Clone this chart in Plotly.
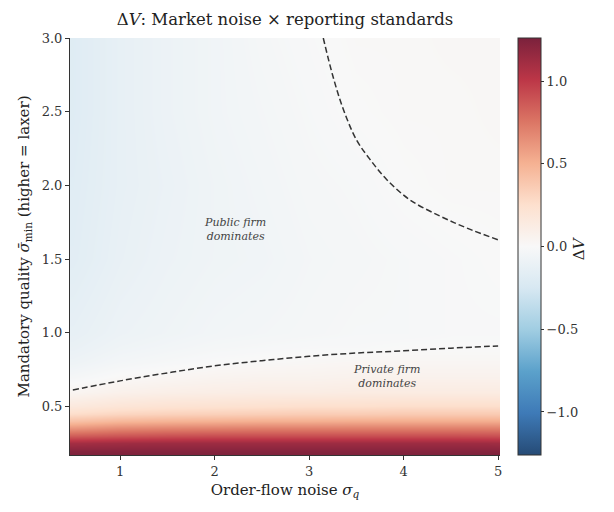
import plotly.graph_objects as go

# Grid
sigma_q = [0.5, 1.0, 1.5, 2.0, 2.5, 3.0, 3.5, 4.0, 4.5, 5.0]
sigma_min = [0.17, 0.2, 0.25, 0.3, 0.35, 0.4, 0.45, 0.5, 0.6, 0.7, 0.8, 0.9, 1.0, 1.5, 2.0, 2.5, 3.0]

dV = [
    [1.25, 1.25, 1.25, 1.25, 1.25, 1.25, 1.25, 1.25, 1.25, 1.25],
    [1.22, 1.22, 1.22, 1.22, 1.22, 1.22, 1.22, 1.22, 1.22, 1.22],
    [1.10, 1.12, 1.13, 1.13, 1.13, 1.13, 1.13, 1.13, 1.13, 1.12],
    [0.86, 0.89, 0.91, 0.92, 0.92, 0.92, 0.92, 0.92, 0.92, 0.91],
    [0.62, 0.67, 0.69, 0.70, 0.71, 0.71, 0.71, 0.71, 0.71, 0.71],
    [0.42, 0.47, 0.49, 0.50, 0.51, 0.51, 0.52, 0.52, 0.52, 0.52],
    [0.27, 0.31, 0.33, 0.34, 0.35, 0.36, 0.36, 0.37, 0.37, 0.37],
    [0.16, 0.20, 0.22, 0.23, 0.24, 0.25, 0.25, 0.26, 0.26, 0.26],
    [0.04, 0.08, 0.10, 0.11, 0.12, 0.12, 0.13, 0.13, 0.13, 0.13],
    [-0.03, 0.01, 0.03, 0.05, 0.06, 0.06, 0.07, 0.07, 0.07, 0.07],
    [-0.08, -0.04, -0.02, 0.00, 0.01, 0.02, 0.03, 0.03, 0.03, 0.03],
    [-0.11, -0.07, -0.05, -0.03, -0.02, -0.01, -0.01, 0.00, 0.00, 0.00],
    [-0.13, -0.09, -0.07, -0.05, -0.04, -0.03, -0.02, -0.02, -0.01, -0.01],
    [-0.17, -0.12, -0.09, -0.07, -0.06, -0.04, -0.03, -0.02, -0.01, 0.00],
    [-0.18, -0.13, -0.10, -0.07, -0.05, -0.03, -0.02, 0.00, 0.01, 0.01],
    [-0.19, -0.13, -0.09, -0.06, -0.04, -0.02, 0.00, 0.01, 0.01, 0.02],
    [-0.19, -0.13, -0.09, -0.06, -0.03, -0.01, 0.01, 0.01, 0.02, 0.02],
]

# Zero-contour boundaries
lower_x = [0.5, 1.0, 1.5, 2.0, 2.5, 3.0, 3.5, 4.0, 4.5, 5.0]
lower_y = [0.611, 0.673, 0.727, 0.775, 0.81, 0.84, 0.862, 0.877, 0.895, 0.91]
upper_x = [3.15, 3.25, 3.36, 3.50, 3.64, 3.82, 4.07, 4.39, 4.67, 5.0]
upper_y = [3.0, 2.745, 2.52, 2.31, 2.18, 2.04, 1.90, 1.79, 1.71, 1.63]

rdbu_r = ['#053061', '#2166ac', '#4393c3', '#92c5de', '#d1e5f0', '#f7f7f7',
          '#fddbc7', '#f4a582', '#d6604d', '#b2182b', '#67001f']
ALPHA = 0.87


def _mute(hexc):
    r, g, b = int(hexc[1:3], 16), int(hexc[3:5], 16), int(hexc[5:7], 16)
    f = lambda c: round(c * ALPHA + 255 * (1 - ALPHA))
    return f'rgb({f(r)},{f(g)},{f(b)})'


colorscale = [[i / (len(rdbu_r) - 1), _mute(c)] for i, c in enumerate(rdbu_r)]

cb_ticks = [-1.0, -0.5, 0.0, 0.5, 1.0]
cb_ticktext = ['\u22121.0', '\u22120.5', '0.0', '0.5', '1.0']

FONT = 'DejaVu Serif'
TXT = '#333333'

fig = go.Figure()
fig.add_trace(go.Heatmap(
    x=sigma_q, y=sigma_min, z=dV, zsmooth='best',
    colorscale=colorscale, zmin=-1.26, zmax=1.26,
    colorbar=dict(
        x=1.042, xanchor='left', xref='paper', y=0.5, yanchor='middle',
        len=1.0, lenmode='fraction', thickness=23, ypad=0, xpad=0,
        outlinewidth=1, outlinecolor='#333',
        tickvals=cb_ticks, ticktext=cb_ticktext, ticks='outside', ticklen=3,
        tickcolor='#333', tickfont=dict(family=FONT, size=13, color=TXT),
    ),
    hoverinfo='skip',
))
for bx, by in [(lower_x, lower_y), (upper_x, upper_y)]:
    fig.add_trace(go.Scatter(
        x=bx, y=by, mode='lines',
        line=dict(color='#333333', width=1.5, dash='6px,3px', shape='spline', smoothing=1.0),
        showlegend=False, hoverinfo='skip'))

fig.update_layout(
    width=606, height=504,
    margin=dict(l=62, r=114, t=30, b=57, autoexpand=False),
    paper_bgcolor='white', plot_bgcolor='white',
    font=dict(family=FONT, color=TXT),
    title=dict(text='Δ<i>V</i>: Market noise × reporting standards', x=0.5, xref='paper',
               y=1 - 11 / 504, yref='container', yanchor='middle', xanchor='center',
               font=dict(family=FONT, size=16.5, color='#222')),
    showlegend=False,
    xaxis=dict(range=[0.47, 5.02], tickvals=[1, 2, 3, 4, 5], ticktext=['1', '2', '3', '4', '5'],
               ticks='outside', ticklen=4, tickcolor='#333', showgrid=False, zeroline=False,
               showline=True, linecolor='#333', linewidth=1, mirror=False, automargin=False,
               tickfont=dict(family=FONT, size=13, color=TXT),
               title=dict(text='Order-flow noise <i>σ<sub>q</sub></i>', standoff=6,
                          font=dict(family=FONT, size=15, color='#222'))),
    yaxis=dict(range=[0.17, 3.0], tickvals=[0.5, 1.0, 1.5, 2.0, 2.5, 3.0],
               ticktext=['0.5', '1.0', '1.5', '2.0', '2.5', '3.0'],
               ticks='outside', ticklen=4, tickcolor='#333', showgrid=False, zeroline=False,
               showline=True, linecolor='#333', linewidth=1, mirror=False, automargin=False,
               tickfont=dict(family=FONT, size=13, color=TXT),
               title=dict(text='Mandatory quality <i>σ̄</i><sub>min</sub> (higher = laxer)', standoff=8,
                          font=dict(family=FONT, size=15, color='#222'))),
    annotations=[
        dict(x=2.22, y=1.70, xref='x', yref='y', text='<i>Public firm<br>dominates</i>',
             showarrow=False, font=dict(family=FONT, size=11, color='#444')),
        dict(x=3.82, y=0.70, xref='x', yref='y', text='<i>Private firm<br>dominates</i>',
             showarrow=False, font=dict(family=FONT, size=11, color='#444')),
        dict(x=(582 - 62) / 430, y=0.496, xref='paper', yref='paper', text='Δ<i>V</i>',
             textangle=-90, showarrow=False, font=dict(family=FONT, size=15, color='#222')),
    ],
)

fig.write_html('out.html')
